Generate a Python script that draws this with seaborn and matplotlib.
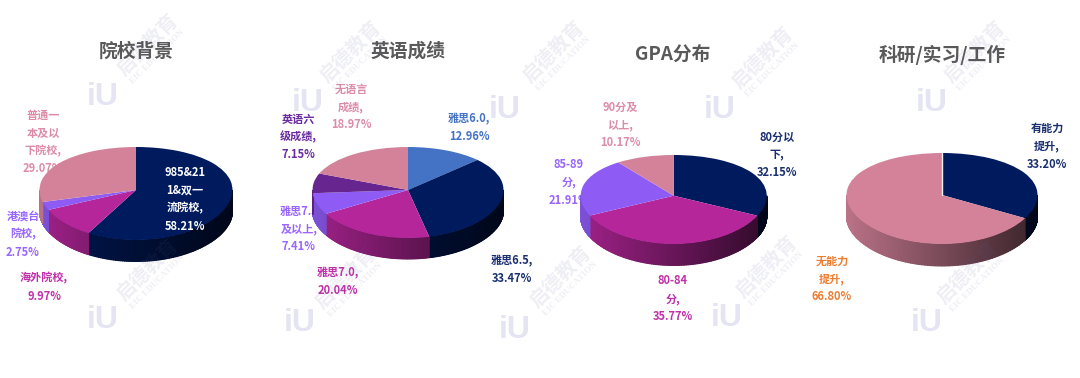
import numpy as np
import matplotlib
matplotlib.use("Agg")
import matplotlib.pyplot as plt
import matplotlib.transforms as mtrans
from matplotlib.colors import LinearSegmentedColormap, to_rgb
import seaborn as sns

# ---------- data ----------
titles = ["院校背景", "英语成绩", "GPA分布", "科研/实习/工作"]

school_values = [58.21, 9.97, 2.75, 29.07]
school_labels = ["985&21\n1&双一\n流院校,", "海外院校,", "港澳台\n院校,", "普通一\n本及以\n下院校,"]

english_values = [12.96, 33.47, 20.04, 7.41, 7.15, 18.97]
english_labels = ["雅思6.0,", "雅思6.5,", "雅思7.0,", "雅思7.5\n及以上,", "英语六\n级成绩,", "无语言\n成绩,"]

gpa_values = [32.15, 35.77, 21.91, 10.17]
gpa_labels = ["80分以\n下,", "80-84\n分,", "85-89\n分,", "90分及\n以上,"]

work_values = [33.20, 66.80]
work_labels = ["有能力\n提升,", "无能力\n提升,"]

# ---------- styles ----------
NAVY, MAGENTA, VIOLET, PINK = "#001a5e", "#b5269b", "#8e5cf5", "#d4829a"
BLUE, DPURPLE = "#4472c4", "#66258f"
T_NAVY, T_MAG, T_VIO, T_PINK = "#1a2f6f", "#c030a8", "#9966ff", "#dc8ca6"
T_BLUE, T_DPUR, T_ORG = "#4472c4", "#6a2ca0", "#ed7d31"

W, H = 1080, 378
sns.set_theme(style="white")
plt.rcParams["font.family"] = ["Noto Sans CJK SC", "DejaVu Sans"]

charts = [
    dict(v=school_values, l=school_labels,
         pal=[NAVY, MAGENTA, VIOLET, PINK],
         tc=["#ffffff", T_MAG, T_VIO, T_PINK],
         pos=[(185, 199), (44, 287), (23, 234), (43, 142)],
         front=[True, False, False, False],
         cx=136, rx=96.5, top=147, bot=240, apex=190, dep=21.5, title_xy=(136, 51)),
    dict(v=english_values, l=english_labels,
         pal=[BLUE, NAVY, MAGENTA, VIOLET, DPURPLE, PINK],
         tc=[T_BLUE, T_NAVY, T_MAG, T_VIO, T_DPUR, T_PINK],
         pos=[(469, 128), (512, 270), (338, 282), (299, 229), (298, 137), (351, 107)],
         front=[True, True, True, False, True, True],
         cx=408, rx=95.5, top=147, bot=238, apex=190, dep=21, title_xy=(408, 51)),
    dict(v=gpa_values, l=gpa_labels,
         pal=[NAVY, MAGENTA, VIOLET, PINK],
         tc=[T_NAVY, T_MAG, T_VIO, T_PINK],
         pos=[(777, 155), (673, 299), (569, 182), (620, 125)],
         front=[True, True, False, True],
         cx=673.7, rx=93, top=155, bot=244, apex=195.7, dep=21.5, title_xy=(673, 55)),
    dict(v=work_values, l=work_labels,
         pal=[NAVY, PINK],
         tc=[T_NAVY, T_ORG],
         pos=[(1047, 146), (832, 279)],
         front=[True, True],
         cx=942, rx=95.5, top=153, bot=244, apex=195, dep=22, title_xy=(942, 55)),
]


class Persp(mtrans.Transform):
    """Moves the pie apex off the ellipse centre to imitate perspective."""
    input_dims = output_dims = 2
    has_inverse = False

    def __init__(self, k):
        super().__init__()
        self.k = k

    def transform_non_affine(self, values):
        v = np.array(values, dtype=float)
        v[:, 1] = v[:, 1] + self.k * (1 - v[:, 1] ** 2)
        return v


fig = plt.figure(figsize=(W / 100, H / 100), dpi=100, facecolor="white")


def full_ax(z):
    a = fig.add_axes([0, 0, 1, 1], zorder=z)
    a.set_xlim(0, W)
    a.set_ylim(H, 0)
    a.axis("off")
    a.patch.set_alpha(0)
    return a


back = full_ax(0)
front = full_ax(5)
FS = 8.0

for ci, c in enumerate(charts):
    ry = (c["bot"] - c["top"]) / 2
    mid = (c["bot"] + c["top"]) / 2
    k = (mid - c["apex"]) / ry
    d = c["dep"] / ry
    ax = fig.add_axes([(c["cx"] - c["rx"]) / W,
                       1 - (c["bot"] + c["dep"]) / H,
                       2 * c["rx"] / W,
                       (c["bot"] - c["top"] + c["dep"]) / H], zorder=2)
    palette = sns.color_palette(c["pal"])
    wedges, _ = ax.pie(c["v"], colors=palette, startangle=90, counterclock=False,
                       radius=1, wedgeprops=dict(linewidth=0))
    ax.set_aspect("auto")
    ax.set_xlim(-1, 1)
    ax.set_ylim(-1 - d, 1)
    ax.axis("off")
    persp = Persp(k)
    for w, col in zip(wedges, palette):
        w.set_transform(persp + ax.transData)
        w.set_clip_on(False)
        w.set_zorder(3)
        # extruded side wall, only on the lower half of the rim
        a1, a2 = w.theta1 % 360, w.theta2 % 360
        if a2 <= a1:
            a2 += 360
        segs = []
        for lo, hi in [(180, 360), (540, 720)]:
            s, e = max(a1, lo), min(a2, hi)
            if e > s:
                segs.append((s, e))
        cm = LinearSegmentedColormap.from_list(
            "g", [tuple(0.88 * x for x in to_rgb(col)), tuple(0.27 * x for x in to_rgb(col))])
        for s, e in segs:
            t = np.radians(np.linspace(s, e, 90))
            xs, ys = np.cos(t), np.sin(t)
            ytop = ys + k * (1 - ys ** 2)
            X = np.vstack([xs, xs])
            Y = np.vstack([ytop, ytop - d])
            m = ax.pcolormesh(X, Y, X, cmap=cm, vmin=-1, vmax=1, shading="gouraud", zorder=1)
            m.set_clip_on(False)
    if ci == 3:
        ax.plot([0, 0], [k, 1], color="#f0f0f0", lw=1.0, zorder=4, clip_on=False)

    back.text(c["title_xy"][0], c["title_xy"][1], titles[ci], ha="center", va="center",
              fontsize=13.5, fontweight="bold", color="#595959")
    for lab, val, xy, tc, fr in zip(c["l"], c["v"], c["pos"], c["tc"], c["front"]):
        (front if fr else back).text(xy[0], xy[1], f"{lab}\n{val:.2f}%", ha="center", va="center",
                                     fontsize=FS, fontweight="bold", color=tc,
                                     linespacing=1.5, multialignment="center")

# ---------- watermarks ----------
wm_points = [(147, 45), (350, 52), (553, 52), (762, 58), (974, 52),
             (147, 270), (345, 278), (560, 277), (766, 267), (967, 273)]
logo_points = [(103, 97), (103, 320), (308, 103), (300, 323), (505, 110), (515, 330),
               (720, 110), (727, 318), (932, 103), (927, 323)]
for x, y in wm_points:
    front.text(x, y, "启德教育", rotation=45, rotation_mode="anchor", ha="center", va="center",
               fontsize=14, fontweight="bold", color="#5a5a9a", alpha=0.10)
    front.text(x + 10, y + 12, "EIC EDUCATION", rotation=45, rotation_mode="anchor", ha="center", va="center",
               fontsize=6.5, family="Liberation Serif", fontweight="bold", color="#5a5a9a", alpha=0.10)
for x, y in logo_points:
    back.text(x, y, "iU", ha="center", va="center", fontsize=23, fontweight="bold",
              family="Liberation Sans", color="#e4e4f2")

fig.savefig("out.png", dpi=100, facecolor="white")
